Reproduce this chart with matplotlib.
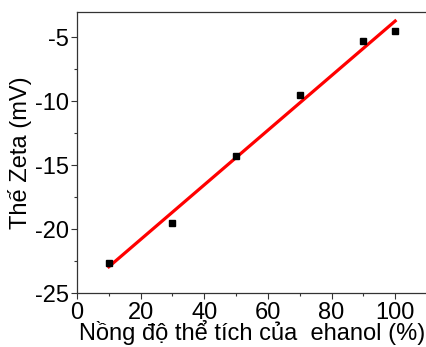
import numpy as np
import matplotlib
matplotlib.use('Agg')
import matplotlib.pyplot as plt
from matplotlib.ticker import MultipleLocator

# ========== DATA ==========
ethanol_pct = [10, 30, 50, 70, 90, 100]
zeta_mv = [-22.6, -19.5, -14.3, -9.5, -5.3, -4.5]

plt.rcParams['font.family'] = ['Liberation Sans', 'DejaVu Sans']

# ========== PLOT ==========
fig = plt.figure(figsize=(4.27, 3.47), dpi=100)
ax = fig.add_axes([77 / 427, 1 - 293.3 / 347, 350 / 427, (293.3 - 11.7) / 347])

x = np.array(ethanol_pct, dtype=float)
y = np.array(zeta_mv, dtype=float)
a, b = np.polyfit(x, y, 1)
x_fit = np.array([x.min(), x.max()])
ax.plot(x_fit, a * x_fit + b, '-', color='#ff0000', linewidth=2.3, zorder=2)
ax.plot(x, y, 's', color='black', markersize=4.5, zorder=3)

ax.set_xlim(0, 110)
ax.set_ylim(-25, -3)
ax.xaxis.set_minor_locator(MultipleLocator(10))
ax.yaxis.set_minor_locator(MultipleLocator(2.5))
ax.set_xticks([0, 20, 40, 60, 80, 100])
ax.set_yticks([-25, -20, -15, -10, -5])
ax.set_yticklabels(['-25', '-20', '-15', '-10', '-5'])

ax.tick_params(which='major', direction='out', length=4, width=0.8, labelsize=17, pad=2, color='#333333')
ax.tick_params(which='minor', direction='out', length=2.5, width=0.8, color='#333333')
ax.spines['right'].set_visible(False)
for s in ['top', 'left', 'bottom']:
    ax.spines[s].set_color('#333333')
    ax.spines[s].set_linewidth(0.9)

ax.set_xlabel('Nồng độ thể tích của  ehanol (%)', fontsize=17, labelpad=-2.5)
ax.set_ylabel('Thế Zeta (mV)', fontsize=17, labelpad=2)

plt.savefig('out.png', dpi=100)
plt.close(fig)
